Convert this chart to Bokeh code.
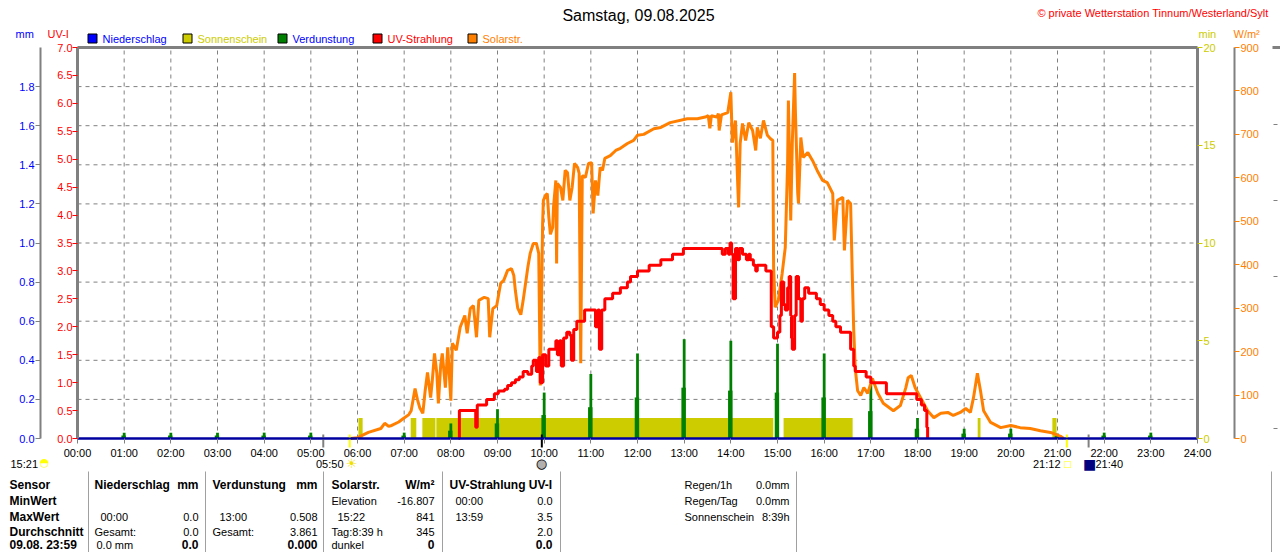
from bokeh.plotting import figure
from bokeh.models import (Range1d, LinearAxis, FixedTicker, PrintfTickFormatter, Label)
from bokeh.embed import file_html
from bokeh.resources import INLINE

FONT = "Liberation Sans"

# ------------------------------------------------------------------ data
hour_ticks = list(range(25))
hour_labels = ["00:00", "01:00", "02:00", "03:00", "04:00", "05:00", "06:00", "07:00",
               "08:00", "09:00", "10:00", "11:00", "12:00", "13:00", "14:00", "15:00",
               "16:00", "17:00", "18:00", "19:00", "20:00", "21:00", "22:00", "23:00", "24:00"]
uv_ticks = [0.0, 0.5, 1.0, 1.5, 2.0, 2.5, 3.0, 3.5, 4.0, 4.5, 5.0, 5.5, 6.0, 6.5, 7.0]
mm_ticks = [0.0, 0.2, 0.4, 0.6, 0.8, 1.0, 1.2, 1.4, 1.6, 1.8]
min_ticks = [0, 5, 10, 15, 20]
wm2_ticks = [0, 100, 200, 300, 400, 500, 600, 700, 800, 900]

# Niederschlag (mm) - no rain all day
rain_hour = [0, 24]
rain_mm = [0.0, 0.0]

# Sonnenschein (min) - sunny intervals (hours)
sun_start = [6.02, 7.14, 7.39, 7.69, 15.13, 19.29, 20.89]
sun_end = [6.11, 7.26, 7.67, 14.91, 16.61, 19.35, 20.98]
sun_min = [1.05, 1.05, 1.05, 1.05, 1.05, 1.05, 1.05]

# Verdunstung (mm) hourly
evap_hour = [1, 2, 3, 4, 5, 7, 8, 9, 10, 11, 12, 13, 14, 15, 16, 17, 18, 19, 20, 21, 22, 23]
evap_peak = [0.03, 0.03, 0.03, 0.03, 0.03, 0.03, 0.077, 0.15, 0.235, 0.33, 0.435, 0.508,
             0.50, 0.485, 0.435, 0.28, 0.105, 0.05, 0.05, 0.025, 0.03, 0.03]
evap_shoulder = [0.015, 0.015, 0.015, 0.015, 0.015, 0.015, 0.04, 0.077, 0.12, 0.16, 0.21, 0.26,
                 0.245, 0.235, 0.21, 0.14, 0.05, 0.025, 0.025, 0.012, 0.015, 0.015]

# Solarstrahlung (W/m2), time in minutes of day
solar_minute = [351, 360, 374, 390, 395, 400, 404, 413, 419, 426, 429, 434, 437, 440, 444, 447,
                450, 454, 456, 459, 462, 464, 467, 469, 473, 476, 480, 482, 487, 492, 498, 501,
                505, 509, 513, 516, 523, 528, 530, 534, 539, 544, 548, 553, 558, 561, 563, 566,
                570, 573, 579, 582, 586, 590, 593, 595, 598, 599, 602, 604, 606, 608, 611, 612,
                615, 616, 617, 621, 624, 627, 630, 633, 636, 639, 643, 645, 647, 649, 653, 657,
                661, 663, 666, 669, 672, 675, 678, 685, 692, 698, 707, 715, 720, 728, 741, 750,
                762, 784, 797, 807, 811, 813, 815, 822, 824, 825, 828, 836, 840, 842, 846, 849,
                850, 852, 855, 859, 863, 868, 872, 874, 878, 882, 887, 891, 894, 895, 897, 901,
                906, 910, 913, 914, 917, 919, 922, 923, 926, 927, 930, 933, 939, 945, 951, 958,
                964, 971, 973, 977, 984, 986, 990, 994, 996, 998, 1000, 1003, 1007, 1011, 1016,
                1022, 1029, 1036, 1049, 1058, 1065, 1068, 1072, 1077, 1084, 1093, 1101, 1110,
                1119, 1126, 1135, 1142, 1148, 1152, 1157, 1161, 1165, 1174, 1187, 1200, 1212,
                1225, 1238, 1251, 1264, 1268]
solar_wm2 = [0, 2, 14, 23, 35, 28, 30, 38, 46, 55, 64, 115, 90, 71, 58, 110,
             152, 94, 130, 196, 150, 81, 170, 196, 117, 210, 87, 219, 203, 256, 283, 242,
             299, 306, 233, 318, 325, 322, 233, 299, 306, 357, 364, 387, 391, 375, 340, 300,
             285, 318, 394, 426, 449, 449, 426, 122, 495, 548, 560, 564, 509, 470, 486, 532,
             594, 403, 587, 578, 548, 617, 612, 548, 578, 633, 624, 610, 173, 605, 601, 633,
             635, 518, 594, 559, 624, 617, 645, 651, 663, 668, 679, 686, 698, 700, 713, 716,
             727, 736, 736, 740, 743, 714, 743, 740, 748, 709, 745, 750, 797, 681, 732, 578,
             532, 679, 725, 686, 727, 709, 663, 716, 691, 732, 698, 690, 686, 394, 302, 318,
             380, 440, 633, 778, 502, 679, 841, 755, 564, 541, 693, 647, 658, 640, 617, 594,
             589, 564, 456, 548, 555, 433, 548, 541, 387, 250, 160, 110, 99, 117, 104,
             138, 104, 81, 64, 76, 117, 140, 145, 117, 94, 64, 48, 58,
             60, 53, 60, 69, 60, 94, 150, 110, 64, 37, 25, 30, 25,
             23, 18, 14, 5, 0]

# UV-Strahlung (UV-I), time in minutes of day
uv_minute = [490, 491, 509, 512, 514, 521, 526, 531, 536, 541, 549, 553, 558, 563, 568, 573,
             579, 584, 586, 590, 593, 595, 598, 602, 606, 611, 615, 617, 620, 622, 625, 629,
             633, 635, 638, 642, 647, 652, 657, 662, 666, 669, 671, 674, 678, 683, 688, 694,
             698, 707, 711, 720, 724, 735, 750, 765, 779, 810, 824, 829, 833, 837, 839, 841,
             843, 846, 849, 851, 855, 860, 863, 865, 869, 872, 874, 879, 885, 890, 892, 895,
             897, 900, 903, 905, 908, 910, 913, 915, 917, 918, 919, 922, 924, 927, 930, 932,
             935, 940, 945, 950, 955, 960, 966, 971, 975, 981, 987, 990, 994, 998, 1000, 1004,
             1009, 1014, 1020, 1032, 1040, 1071, 1079, 1085, 1089, 1092, 1093]
uv_index = [0.0, 0.5, 0.5, 0.2, 0.6, 0.6, 0.7, 0.7, 0.8, 0.85, 0.88, 0.95, 1.0, 1.05, 1.1, 1.2,
            1.15, 1.3, 1.4, 1.2, 1.45, 1.0, 1.5, 1.3, 1.6, 1.6, 1.75, 1.5, 1.75, 1.3, 1.8, 1.9,
            1.85, 1.4, 1.95, 2.1, 2.1, 2.3, 2.3, 2.3, 2.0, 2.3, 1.6, 2.3, 2.5, 2.5, 2.6, 2.6,
            2.7, 2.8, 2.9, 3.0, 3.0, 3.1, 3.2, 3.3, 3.4, 3.4, 3.4, 3.3, 3.4, 3.3, 3.5, 3.3,
            2.5, 3.4, 3.2, 3.4, 3.3, 3.2, 3.3, 3.2, 3.1, 3.0, 3.1, 3.1, 3.0, 3.0, 2.0, 1.8,
            1.8, 1.9, 2.2, 2.8, 2.4, 2.3, 2.7, 2.9, 2.2, 1.8, 1.6, 2.2, 2.9, 2.5, 2.1, 2.5,
            2.7, 2.6, 2.6, 2.5, 2.4, 2.3, 2.2, 2.1, 2.0, 1.9, 1.9, 1.9, 1.6, 1.3, 1.2, 1.2,
            1.2, 1.1, 1.0, 1.0, 0.8, 0.8, 0.7, 0.6, 0.5, 0.2, 0.0]

# astronomical events below the time axis (minutes of day)
event_minute = [316, 350, 597, 1272, 1300]
event_color = ["#808080", "#ffff00", "#000000", "#ffff00", "#808080"]

# ------------------------------------------------------------------ layout geometry
W, H = 1280, 552
PX0, PX1 = 77, 1197      # frame left / right (pixels)
PY0, PY1 = 438, 47       # frame bottom / top (pixels)


def X(px):
    return (px - PX0) / (PX1 - PX0) * 24


def Y(py, top=7.0):
    return (PY0 - py) / (PY0 - PY1) * top


p = figure(width=W, height=H, x_range=Range1d(X(0), X(W)), y_range=Range1d(Y(H), Y(0)),
           output_backend="svg", toolbar_location=None, min_border=0,
           background_fill_color="white", border_fill_color="white",
           outline_line_color=None)
p.extra_y_ranges = {"mm": Range1d(Y(H, 2), Y(0, 2)),
                    "min": Range1d(Y(H, 20), Y(0, 20)),
                    "wm2": Range1d(Y(H, 900), Y(0, 900))}
p.xgrid.visible = False
p.ygrid.visible = False


def style_axis(ax, color, tick_color, line_color=None, line_width=1):
    ax.major_label_text_font = FONT
    ax.major_label_text_font_size = "11px"
    ax.major_label_text_color = color
    ax.major_tick_line_color = tick_color
    ax.major_tick_out = 5
    ax.major_tick_in = 0
    ax.minor_tick_line_color = None
    ax.axis_line_color = line_color
    ax.axis_line_width = line_width
    ax.major_label_standoff = 1


# ---- grid lines (behind everything)
p.segment(x0=hour_ticks[1:-1], y0=0, x1=hour_ticks[1:-1], y1=7,
          line_color="#808080", line_dash="4 4", line_width=1)
p.segment(x0=0, y0=mm_ticks[1:], x1=24, y1=mm_ticks[1:], y_range_name="mm",
          line_color="#808080", line_dash="4 4", line_width=1)
p.segment(x0=0, y0=7, x1=24, y1=7, line_color="#808080", line_width=3)

# ---- axes
xa = p.xaxis[0]
xa.fixed_location = 0
xa.bounds = (0, 24)
xa.ticker = FixedTicker(ticks=hour_ticks)
xa.major_label_overrides = dict(zip(hour_ticks, hour_labels))
style_axis(xa, "black", "#808080", "#0000a0", 2)
xa.major_label_standoff = 3

ya = p.yaxis[0]
ya.fixed_location = 0
ya.bounds = (0, 7)
ya.ticker = FixedTicker(ticks=uv_ticks)
ya.formatter = PrintfTickFormatter(format="%.1f")
style_axis(ya, "#ff0000", "#ff0000", "#808080", 3)
ya.major_label_standoff = 0

mm_ax = LinearAxis(y_range_name="mm", ticker=FixedTicker(ticks=mm_ticks),
                   formatter=PrintfTickFormatter(format="%.1f"),
                   fixed_location=X(40), bounds=(0, 2))
style_axis(mm_ax, "#0000ff", "#808080", "#808080", 2)
p.add_layout(mm_ax, "left")

min_ax = LinearAxis(y_range_name="min", ticker=FixedTicker(ticks=min_ticks),
                    fixed_location=24, bounds=(0, 20))
style_axis(min_ax, "#cccc00", "#cccc00", "#808080", 3)
p.add_layout(min_ax, "right")

wm_ax = LinearAxis(y_range_name="wm2", ticker=FixedTicker(ticks=wm2_ticks),
                   fixed_location=X(1234), bounds=(0, 900))
style_axis(wm_ax, "#ff8000", "#ff8000", "#808080", 2)
p.add_layout(wm_ax, "right")

# ---- data glyphs
p.quad(left=sun_start, right=sun_end, bottom=0, top=sun_min, y_range_name="min",
       fill_color="#cccc00", line_color=None)
p.vbar(x=[h - 0.012 for h in evap_hour], width=0.095, top=evap_shoulder, bottom=0,
       y_range_name="mm", fill_color="#008000", line_color=None)
p.vbar(x=evap_hour, width=0.06, top=evap_peak, bottom=0,
       y_range_name="mm", fill_color="#008000", line_color=None)
p.line(x=[m / 60 for m in solar_minute], y=solar_wm2, y_range_name="wm2",
       line_color="#ff8000", line_width=3)
p.step(x=[m / 60 for m in uv_minute], y=uv_index, mode="after",
       line_color="#ff0000", line_width=3)
p.line(x=rain_hour, y=rain_mm, y_range_name="mm", line_color="#0000a0", line_width=2)

# event ticks below the time axis
p.segment(x0=[m / 60 for m in event_minute], y0=Y(434), x1=[m / 60 for m in event_minute],
          y1=Y(447), line_color=event_color, line_width=2)


# ------------------------------------------------------------------ texts
def txt(px, py, s, color="black", size="11px", align="left", style="normal", font=FONT):
    p.add_layout(Label(x=X(px), y=Y(py), text=s, text_color=color, text_font_size=size,
                       text_align=align, text_baseline="middle", text_font_style=style,
                       text_font=font))


txt(638, 15, "Samstag, 09.08.2025", size="16px", align="center")
txt(1268, 12, "\u00a9 private Wetterstation Tinnum/Westerland/Sylt", color="#ff0000",
    align="right")
txt(15, 33, "mm", color="#0000ff")
txt(47, 33, "UV-I", color="#ff0000")
txt(1198, 33, "min", color="#cccc00")
txt(1233, 33, "W/m\u00b2", color="#ff8000")

legend_x = [92, 187, 282, 377, 472]
legend_text_x = [102, 197, 292, 387, 482]
legend_names = ["Niederschlag", "Sonnenschein", "Verdunstung", "UV-Strahlung", "Solarstr."]
legend_text_col = ["#0000ff", "#cccc00", "#0000ff", "#ff0000", "#ff8000"]
legend_fill = ["#0000ff", "#cccc00", "#008000", "#ff0000", "#ff8000"]
p.rect(x=[X(v) for v in legend_x], y=Y(38), width=9, height=9, width_units="screen",
       height_units="screen", fill_color=legend_fill, line_color="black", line_width=1)
for tx, name, tcol in zip(legend_text_x, legend_names, legend_text_col):
    txt(tx, 38.5, name, color=tcol)

txt(10, 463, "15:21")
txt(44, 462, "\u25d3", color="#ffff00", size="11px", align="center", font="DejaVu Sans")
txt(343, 463, "05:50", align="right")
txt(351, 463, "\u2600", color="#f0e000", size="13px", align="center", font="DejaVu Sans")
txt(541, 463, "\u25cf", color="#b0b0b0", size="13px", align="center", font="DejaVu Sans")
txt(541, 463, "\u25cb", color="black", size="13px", align="center", font="DejaVu Sans")
txt(1060, 463, "21:12", align="right")
txt(1067, 463, "\u25a1", color="#ffff00", size="9px", align="center", font="DejaVu Sans")
txt(1089, 463, "\u25a0", color="#000080", size="14px", align="center", font="DejaVu Sans")
txt(1095, 463, "21:40")

# table separators and right-edge remnants of the neighbouring chart
sep_x = [88, 205, 323, 442, 560, 796, 1271]
p.segment(x0=[X(v) for v in sep_x], y0=Y(471), x1=[X(v) for v in sep_x], y1=Y(560),
          line_color="#a0a0a0", line_width=1)
p.segment(x0=X(1272), y0=7, x1=X(1281), y1=7, line_color="#808080", line_width=3)
nb_y = [124, 200, 276, 428]
p.segment(x0=X(1273), y0=[Y(v) for v in nb_y], x1=X(1281), y1=[Y(v) for v in nb_y],
          line_color="#808080", line_dash="4 4", line_width=1)

rows = [484, 500, 516, 531, 544]
for r, s in zip(rows, ["Sensor", "MinWert", "MaxWert", "Durchschnitt", "09.08. 23:59"]):
    txt(9, r, s, size="12px", style="bold")
B = "bold"
R0, R1, R2, R3, R4 = rows
txt(94, R0, "Niederschlag", size="12px", style=B)
txt(198, R0, "mm", size="12px", style=B, align="right")
txt(100, R2, "00:00")
txt(198, R2, "0.0", align="right")
txt(94, R3, "Gesamt:")
txt(198, R3, "0.0", align="right")
txt(96, R4, "0.0 mm")
txt(198, R4, "0.0", size="12px", style=B, align="right")

txt(212, R0, "Verdunstung", size="12px", style=B)
txt(317, R0, "mm", size="12px", style=B, align="right")
txt(219, R2, "13:00")
txt(317, R2, "0.508", align="right")
txt(212, R3, "Gesamt:")
txt(317, R3, "3.861", align="right")
txt(317, R4, "0.000", size="12px", style=B, align="right")

txt(331, R0, "Solarstr.", size="12px", style=B)
txt(434, R0, "W/m\u00b2", size="12px", style=B, align="right")
txt(331, R1, "Elevation")
txt(434, R1, "-16.807", align="right")
txt(337, R2, "15:22")
txt(434, R2, "841", align="right")
txt(331, R3, "Tag:8:39 h")
txt(434, R3, "345", align="right")
txt(331, R4, "dunkel")
txt(434, R4, "0", size="12px", style=B, align="right")

txt(449, R0, "UV-Strahlung UV-I", size="12px", style=B)
txt(455, R1, "00:00")
txt(552, R1, "0.0", align="right")
txt(455, R2, "13:59")
txt(552, R2, "3.5", align="right")
txt(552, R3, "2.0", align="right")
txt(552, R4, "0.0", size="12px", style=B, align="right")

txt(684, R0, "Regen/1h")
txt(789, R0, "0.0mm", align="right")
txt(684, R1, "Regen/Tag")
txt(789, R1, "0.0mm", align="right")
txt(684, R2, "Sonnenschein")
txt(789, R2, "8:39h", align="right")

open("out.html", "w").write(file_html(p, INLINE))
